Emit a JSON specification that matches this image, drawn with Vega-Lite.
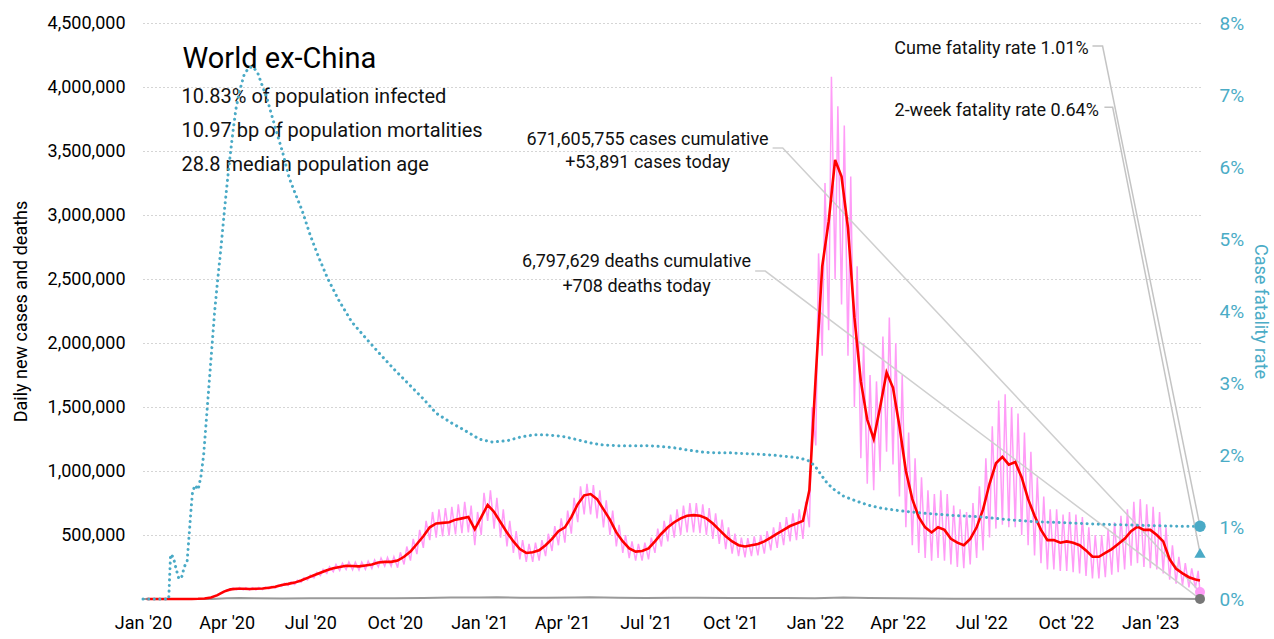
{
"$schema": "https://vega.github.io/schema/vega-lite/v6.json",
"width": 1057, "height": 576,
"autosize": {"type": "none"},
"padding": {"left": 143, "top": 23, "right": 74, "bottom": 40},
"background": "white",
"config": {"font": "Roboto", "view": {"stroke": null}},
"datasets": {
"cases_daily": [
{"date":"2020-01-05","value":0},{"date":"2020-01-08","value":0},{"date":"2020-01-12","value":0},{"date":"2020-01-15","value":0},{"date":"2020-01-19","value":0},{"date":"2020-01-22","value":0},{"date":"2020-01-26","value":50},{"date":"2020-01-29","value":100},{"date":"2020-02-02","value":100},{"date":"2020-02-05","value":150},{"date":"2020-02-09","value":100},{"date":"2020-02-12","value":200},{"date":"2020-02-16","value":100},{"date":"2020-02-19","value":200},{"date":"2020-02-23","value":400},{"date":"2020-02-26","value":800},
{"date":"2020-03-01","value":1300},{"date":"2020-03-04","value":2800},{"date":"2020-03-08","value":3500},{"date":"2020-03-11","value":7000},{"date":"2020-03-15","value":11000},{"date":"2020-03-18","value":20000},{"date":"2020-03-22","value":27000},{"date":"2020-03-25","value":45000},{"date":"2020-03-29","value":52000},{"date":"2020-04-01","value":72000},{"date":"2020-04-05","value":66000},{"date":"2020-04-08","value":86000},{"date":"2020-04-12","value":72000},{"date":"2020-04-15","value":90000},{"date":"2020-04-19","value":72000},{"date":"2020-04-22","value":88000},{"date":"2020-04-26","value":70000},{"date":"2020-04-29","value":88000},
{"date":"2020-05-03","value":72000},{"date":"2020-05-06","value":90000},{"date":"2020-05-10","value":74000},{"date":"2020-05-13","value":92000},{"date":"2020-05-17","value":80000},{"date":"2020-05-20","value":98000},{"date":"2020-05-24","value":86000},{"date":"2020-05-27","value":108000},{"date":"2020-05-31","value":98000},{"date":"2020-06-03","value":124000},{"date":"2020-06-07","value":105000},{"date":"2020-06-10","value":132000},{"date":"2020-06-14","value":114000},{"date":"2020-06-17","value":146000},{"date":"2020-06-21","value":130000},{"date":"2020-06-24","value":165000},{"date":"2020-06-28","value":148000},{"date":"2020-07-01","value":186000},
{"date":"2020-07-05","value":165000},{"date":"2020-07-08","value":208000},{"date":"2020-07-12","value":184000},{"date":"2020-07-15","value":232000},{"date":"2020-07-19","value":200000},{"date":"2020-07-22","value":252000},{"date":"2020-07-26","value":214000},{"date":"2020-07-29","value":270000},{"date":"2020-08-02","value":222000},{"date":"2020-08-05","value":280000},{"date":"2020-08-09","value":230000},{"date":"2020-08-12","value":290000},{"date":"2020-08-16","value":228000},{"date":"2020-08-19","value":288000},{"date":"2020-08-23","value":226000},{"date":"2020-08-26","value":288000},{"date":"2020-08-30","value":232000},{"date":"2020-09-02","value":296000},
{"date":"2020-09-06","value":238000},{"date":"2020-09-09","value":305000},{"date":"2020-09-13","value":252000},{"date":"2020-09-16","value":320000},{"date":"2020-09-20","value":256000},{"date":"2020-09-23","value":325000},{"date":"2020-09-27","value":256000},{"date":"2020-09-30","value":330000},{"date":"2020-10-04","value":245000},{"date":"2020-10-07","value":365000},{"date":"2020-10-11","value":270000},{"date":"2020-10-14","value":410000},{"date":"2020-10-18","value":300000},{"date":"2020-10-21","value":470000},{"date":"2020-10-25","value":350000},{"date":"2020-10-28","value":540000},
{"date":"2020-11-01","value":400000},{"date":"2020-11-04","value":610000},{"date":"2020-11-08","value":460000},{"date":"2020-11-11","value":680000},{"date":"2020-11-15","value":480000},{"date":"2020-11-18","value":700000},{"date":"2020-11-22","value":490000},{"date":"2020-11-25","value":710000},{"date":"2020-11-29","value":495000},{"date":"2020-12-02","value":720000},{"date":"2020-12-06","value":505000},{"date":"2020-12-09","value":740000},{"date":"2020-12-13","value":515000},{"date":"2020-12-16","value":760000},{"date":"2020-12-20","value":520000},{"date":"2020-12-23","value":730000},{"date":"2020-12-27","value":420000},{"date":"2020-12-30","value":680000},
{"date":"2021-01-03","value":500000},{"date":"2021-01-06","value":830000},{"date":"2021-01-10","value":610000},{"date":"2021-01-13","value":850000},{"date":"2021-01-17","value":550000},{"date":"2021-01-20","value":790000},{"date":"2021-01-24","value":480000},{"date":"2021-01-27","value":700000},{"date":"2021-01-31","value":410000},{"date":"2021-02-03","value":610000},{"date":"2021-02-07","value":360000},{"date":"2021-02-10","value":530000},{"date":"2021-02-14","value":310000},{"date":"2021-02-17","value":460000},{"date":"2021-02-21","value":290000},{"date":"2021-02-24","value":430000},{"date":"2021-02-28","value":290000},{"date":"2021-03-03","value":440000},
{"date":"2021-03-07","value":300000},{"date":"2021-03-10","value":460000},{"date":"2021-03-14","value":335000},{"date":"2021-03-17","value":510000},{"date":"2021-03-21","value":375000},{"date":"2021-03-24","value":570000},{"date":"2021-03-28","value":420000},{"date":"2021-03-31","value":630000},{"date":"2021-04-04","value":440000},{"date":"2021-04-07","value":690000},{"date":"2021-04-11","value":510000},{"date":"2021-04-14","value":790000},{"date":"2021-04-18","value":600000},{"date":"2021-04-21","value":880000},{"date":"2021-04-25","value":660000},{"date":"2021-04-28","value":900000},
{"date":"2021-05-02","value":660000},{"date":"2021-05-05","value":890000},{"date":"2021-05-09","value":630000},{"date":"2021-05-12","value":850000},{"date":"2021-05-16","value":560000},{"date":"2021-05-19","value":770000},{"date":"2021-05-23","value":500000},{"date":"2021-05-26","value":690000},{"date":"2021-05-30","value":410000},{"date":"2021-06-02","value":580000},{"date":"2021-06-06","value":360000},{"date":"2021-06-09","value":500000},{"date":"2021-06-13","value":320000},{"date":"2021-06-16","value":450000},{"date":"2021-06-20","value":300000},{"date":"2021-06-23","value":430000},{"date":"2021-06-27","value":300000},{"date":"2021-06-30","value":440000},
{"date":"2021-07-04","value":310000},{"date":"2021-07-07","value":480000},{"date":"2021-07-11","value":360000},{"date":"2021-07-14","value":550000},{"date":"2021-07-18","value":410000},{"date":"2021-07-21","value":610000},{"date":"2021-07-25","value":450000},{"date":"2021-07-28","value":660000},{"date":"2021-08-01","value":480000},{"date":"2021-08-04","value":700000},{"date":"2021-08-08","value":500000},{"date":"2021-08-11","value":730000},{"date":"2021-08-15","value":520000},{"date":"2021-08-18","value":750000},{"date":"2021-08-22","value":520000},{"date":"2021-08-25","value":750000},{"date":"2021-08-29","value":515000},{"date":"2021-09-01","value":740000},
{"date":"2021-09-05","value":500000},{"date":"2021-09-08","value":710000},{"date":"2021-09-12","value":470000},{"date":"2021-09-15","value":670000},{"date":"2021-09-19","value":430000},{"date":"2021-09-22","value":620000},{"date":"2021-09-26","value":390000},{"date":"2021-09-29","value":560000},{"date":"2021-10-03","value":355000},{"date":"2021-10-06","value":510000},{"date":"2021-10-10","value":335000},{"date":"2021-10-13","value":480000},{"date":"2021-10-17","value":325000},{"date":"2021-10-20","value":475000},{"date":"2021-10-24","value":335000},{"date":"2021-10-27","value":490000},{"date":"2021-10-31","value":340000},{"date":"2021-11-03","value":500000},
{"date":"2021-11-07","value":355000},{"date":"2021-11-10","value":530000},{"date":"2021-11-14","value":380000},{"date":"2021-11-17","value":560000},{"date":"2021-11-21","value":400000},{"date":"2021-11-24","value":600000},{"date":"2021-11-28","value":420000},{"date":"2021-12-01","value":640000},{"date":"2021-12-05","value":450000},{"date":"2021-12-08","value":670000},{"date":"2021-12-12","value":460000},{"date":"2021-12-15","value":700000},{"date":"2021-12-19","value":470000},{"date":"2021-12-22","value":760000},{"date":"2021-12-26","value":560000},{"date":"2021-12-29","value":1500000},
{"date":"2022-01-02","value":1200000},{"date":"2022-01-05","value":2700000},{"date":"2022-01-09","value":1900000},{"date":"2022-01-12","value":3250000},{"date":"2022-01-16","value":2100000},{"date":"2022-01-19","value":4080000},{"date":"2022-01-23","value":2500000},{"date":"2022-01-26","value":3850000},{"date":"2022-01-30","value":2300000},{"date":"2022-02-02","value":3700000},{"date":"2022-02-06","value":1900000},{"date":"2022-02-09","value":3300000},{"date":"2022-02-13","value":1500000},{"date":"2022-02-16","value":2600000},{"date":"2022-02-20","value":1100000},{"date":"2022-02-23","value":2000000},{"date":"2022-02-27","value":900000},{"date":"2022-03-02","value":1750000},
{"date":"2022-03-06","value":850000},{"date":"2022-03-09","value":1700000},{"date":"2022-03-13","value":1000000},{"date":"2022-03-16","value":2050000},{"date":"2022-03-20","value":1150000},{"date":"2022-03-23","value":2200000},{"date":"2022-03-27","value":1050000},{"date":"2022-03-30","value":2000000},{"date":"2022-04-03","value":800000},{"date":"2022-04-06","value":1750000},{"date":"2022-04-10","value":560000},{"date":"2022-04-13","value":1300000},{"date":"2022-04-17","value":420000},{"date":"2022-04-20","value":1100000},{"date":"2022-04-24","value":360000},{"date":"2022-04-27","value":950000},
{"date":"2022-05-01","value":320000},{"date":"2022-05-04","value":850000},{"date":"2022-05-08","value":300000},{"date":"2022-05-11","value":820000},{"date":"2022-05-15","value":320000},{"date":"2022-05-18","value":850000},{"date":"2022-05-22","value":300000},{"date":"2022-05-25","value":820000},{"date":"2022-05-29","value":270000},{"date":"2022-06-01","value":730000},{"date":"2022-06-05","value":250000},{"date":"2022-06-08","value":700000},{"date":"2022-06-12","value":240000},{"date":"2022-06-15","value":680000},{"date":"2022-06-19","value":270000},{"date":"2022-06-22","value":750000},{"date":"2022-06-26","value":320000},{"date":"2022-06-29","value":880000},
{"date":"2022-07-03","value":380000},{"date":"2022-07-06","value":1100000},{"date":"2022-07-10","value":480000},{"date":"2022-07-13","value":1350000},{"date":"2022-07-17","value":550000},{"date":"2022-07-20","value":1550000},{"date":"2022-07-24","value":580000},{"date":"2022-07-27","value":1600000},{"date":"2022-07-31","value":560000},{"date":"2022-08-03","value":1500000},{"date":"2022-08-07","value":560000},{"date":"2022-08-10","value":1450000},{"date":"2022-08-14","value":500000},{"date":"2022-08-17","value":1300000},{"date":"2022-08-21","value":420000},{"date":"2022-08-24","value":1150000},{"date":"2022-08-28","value":340000},{"date":"2022-08-31","value":950000},
{"date":"2022-09-04","value":280000},{"date":"2022-09-07","value":800000},{"date":"2022-09-11","value":230000},{"date":"2022-09-14","value":700000},{"date":"2022-09-18","value":230000},{"date":"2022-09-21","value":700000},{"date":"2022-09-25","value":220000},{"date":"2022-09-28","value":660000},{"date":"2022-10-02","value":220000},{"date":"2022-10-05","value":680000},{"date":"2022-10-09","value":210000},{"date":"2022-10-12","value":660000},{"date":"2022-10-16","value":200000},{"date":"2022-10-19","value":640000},{"date":"2022-10-23","value":180000},{"date":"2022-10-26","value":560000},{"date":"2022-10-30","value":160000},{"date":"2022-11-02","value":500000},
{"date":"2022-11-06","value":160000},{"date":"2022-11-09","value":500000},{"date":"2022-11-13","value":170000},{"date":"2022-11-16","value":550000},{"date":"2022-11-20","value":190000},{"date":"2022-11-23","value":600000},{"date":"2022-11-27","value":210000},{"date":"2022-11-30","value":650000},{"date":"2022-12-04","value":230000},{"date":"2022-12-07","value":700000},{"date":"2022-12-11","value":260000},{"date":"2022-12-14","value":760000},{"date":"2022-12-18","value":280000},{"date":"2022-12-21","value":780000},{"date":"2022-12-25","value":250000},{"date":"2022-12-28","value":740000},
{"date":"2023-01-01","value":240000},{"date":"2023-01-04","value":720000},{"date":"2023-01-08","value":230000},{"date":"2023-01-11","value":680000},{"date":"2023-01-15","value":200000},{"date":"2023-01-18","value":560000},{"date":"2023-01-22","value":150000},{"date":"2023-01-25","value":420000},{"date":"2023-01-29","value":120000},{"date":"2023-02-01","value":330000},{"date":"2023-02-05","value":105000},{"date":"2023-02-08","value":280000},{"date":"2023-02-12","value":90000},{"date":"2023-02-15","value":240000},{"date":"2023-02-19","value":85000},{"date":"2023-02-22","value":220000},{"date":"2023-02-24","value":53891}
],
"cases_7day_avg": [
{"date":"2020-01-05","value":0},{"date":"2020-01-12","value":0},{"date":"2020-01-19","value":0},{"date":"2020-01-26","value":100},{"date":"2020-02-02","value":100},{"date":"2020-02-09","value":100},{"date":"2020-02-16","value":100},{"date":"2020-02-23","value":300},{"date":"2020-03-01","value":1500},{"date":"2020-03-08","value":4000},{"date":"2020-03-15","value":12000},{"date":"2020-03-22","value":30000},{"date":"2020-03-29","value":58000},{"date":"2020-04-05","value":75000},{"date":"2020-04-12","value":80000},{"date":"2020-04-19","value":80000},{"date":"2020-04-26","value":78000},{"date":"2020-05-03","value":80000},{"date":"2020-05-10","value":82000},{"date":"2020-05-17","value":88000},{"date":"2020-05-24","value":95000},{"date":"2020-05-31","value":110000},{"date":"2020-06-07","value":118000},{"date":"2020-06-14","value":128000},{"date":"2020-06-21","value":145000},{"date":"2020-06-28","value":165000},{"date":"2020-07-05","value":185000},{"date":"2020-07-12","value":205000},{"date":"2020-07-19","value":225000},{"date":"2020-07-26","value":240000},{"date":"2020-08-02","value":250000},{"date":"2020-08-09","value":260000},{"date":"2020-08-16","value":258000},{"date":"2020-08-23","value":255000},{"date":"2020-08-30","value":262000},{"date":"2020-09-06","value":270000},{"date":"2020-09-13","value":285000},{"date":"2020-09-20","value":290000},{"date":"2020-09-27","value":290000},{"date":"2020-10-04","value":300000},{"date":"2020-10-11","value":330000},{"date":"2020-10-18","value":370000},{"date":"2020-10-25","value":430000},{"date":"2020-11-01","value":490000},{"date":"2020-11-08","value":560000},{"date":"2020-11-15","value":590000},{"date":"2020-11-22","value":595000},{"date":"2020-11-29","value":600000},{"date":"2020-12-06","value":620000},{"date":"2020-12-13","value":630000},{"date":"2020-12-20","value":640000},{"date":"2020-12-27","value":545000},
{"date":"2021-01-03","value":640000},{"date":"2021-01-10","value":735000},{"date":"2021-01-17","value":680000},{"date":"2021-01-24","value":600000},{"date":"2021-01-31","value":520000},{"date":"2021-02-07","value":450000},{"date":"2021-02-14","value":390000},{"date":"2021-02-21","value":360000},{"date":"2021-02-28","value":365000},{"date":"2021-03-07","value":380000},{"date":"2021-03-14","value":420000},{"date":"2021-03-21","value":470000},{"date":"2021-03-28","value":530000},{"date":"2021-04-04","value":560000},{"date":"2021-04-11","value":640000},{"date":"2021-04-18","value":740000},{"date":"2021-04-25","value":810000},{"date":"2021-05-02","value":820000},{"date":"2021-05-09","value":780000},{"date":"2021-05-16","value":700000},{"date":"2021-05-23","value":620000},{"date":"2021-05-30","value":520000},{"date":"2021-06-06","value":450000},{"date":"2021-06-13","value":395000},{"date":"2021-06-20","value":370000},{"date":"2021-06-27","value":375000},{"date":"2021-07-04","value":395000},{"date":"2021-07-11","value":450000},{"date":"2021-07-18","value":510000},{"date":"2021-07-25","value":560000},{"date":"2021-08-01","value":600000},{"date":"2021-08-08","value":630000},{"date":"2021-08-15","value":650000},{"date":"2021-08-22","value":655000},{"date":"2021-08-29","value":650000},{"date":"2021-09-05","value":630000},{"date":"2021-09-12","value":590000},{"date":"2021-09-19","value":540000},{"date":"2021-09-26","value":490000},{"date":"2021-10-03","value":450000},{"date":"2021-10-10","value":420000},{"date":"2021-10-17","value":410000},{"date":"2021-10-24","value":420000},{"date":"2021-10-31","value":430000},{"date":"2021-11-07","value":450000},{"date":"2021-11-14","value":480000},{"date":"2021-11-21","value":510000},{"date":"2021-11-28","value":540000},{"date":"2021-12-05","value":570000},{"date":"2021-12-12","value":590000},{"date":"2021-12-19","value":610000},{"date":"2021-12-26","value":850000},
{"date":"2022-01-02","value":1750000},{"date":"2022-01-09","value":2600000},{"date":"2022-01-16","value":2950000},{"date":"2022-01-23","value":3430000},{"date":"2022-01-30","value":3300000},{"date":"2022-02-06","value":2900000},{"date":"2022-02-13","value":2200000},{"date":"2022-02-20","value":1700000},{"date":"2022-02-27","value":1400000},{"date":"2022-03-06","value":1250000},{"date":"2022-03-13","value":1500000},{"date":"2022-03-20","value":1770000},{"date":"2022-03-27","value":1650000},{"date":"2022-04-03","value":1350000},{"date":"2022-04-10","value":1000000},{"date":"2022-04-17","value":780000},{"date":"2022-04-24","value":640000},{"date":"2022-05-01","value":560000},{"date":"2022-05-08","value":520000},{"date":"2022-05-15","value":560000},{"date":"2022-05-22","value":540000},{"date":"2022-05-29","value":470000},{"date":"2022-06-05","value":440000},{"date":"2022-06-12","value":420000},{"date":"2022-06-19","value":470000},{"date":"2022-06-26","value":560000},{"date":"2022-07-03","value":700000},{"date":"2022-07-10","value":900000},{"date":"2022-07-17","value":1060000},{"date":"2022-07-24","value":1110000},{"date":"2022-07-31","value":1050000},{"date":"2022-08-07","value":1070000},{"date":"2022-08-14","value":950000},{"date":"2022-08-21","value":780000},{"date":"2022-08-28","value":650000},{"date":"2022-09-04","value":540000},{"date":"2022-09-11","value":460000},{"date":"2022-09-18","value":460000},{"date":"2022-09-25","value":440000},{"date":"2022-10-02","value":450000},{"date":"2022-10-09","value":440000},{"date":"2022-10-16","value":420000},{"date":"2022-10-23","value":380000},{"date":"2022-10-30","value":330000},{"date":"2022-11-06","value":330000},{"date":"2022-11-13","value":360000},{"date":"2022-11-20","value":390000},{"date":"2022-11-27","value":430000},{"date":"2022-12-04","value":470000},{"date":"2022-12-11","value":530000},{"date":"2022-12-18","value":565000},{"date":"2022-12-25","value":540000},
{"date":"2023-01-01","value":540000},{"date":"2023-01-08","value":500000},{"date":"2023-01-15","value":450000},{"date":"2023-01-22","value":310000},{"date":"2023-01-29","value":235000},{"date":"2023-02-05","value":200000},{"date":"2023-02-12","value":170000},{"date":"2023-02-19","value":152000},{"date":"2023-02-24","value":145000}
],
"deaths_daily": [
{"date":"2020-01-01","value":0},{"date":"2020-02-15","value":0},{"date":"2020-03-01","value":100},{"date":"2020-03-15","value":500},{"date":"2020-04-01","value":5000},{"date":"2020-04-15","value":7000},{"date":"2020-05-01","value":5500},{"date":"2020-06-01","value":4500},{"date":"2020-07-01","value":5000},{"date":"2020-08-01","value":6000},{"date":"2020-09-01","value":5500},{"date":"2020-10-01","value":5500},{"date":"2020-11-01","value":7500},{"date":"2020-12-01","value":11000},{"date":"2021-01-01","value":11500},{"date":"2021-01-20","value":14500},{"date":"2021-02-15","value":10000},{"date":"2021-03-15","value":9000},{"date":"2021-04-15","value":12500},{"date":"2021-05-01","value":13500},{"date":"2021-06-01","value":10500},{"date":"2021-07-01","value":8000},{"date":"2021-08-01","value":9000},{"date":"2021-08-25","value":10500},{"date":"2021-10-01","value":8000},{"date":"2021-11-01","value":7000},{"date":"2021-12-01","value":7500},{"date":"2022-01-01","value":6500},{"date":"2022-02-01","value":11000},{"date":"2022-03-01","value":8000},{"date":"2022-04-01","value":5000},{"date":"2022-05-01","value":3000},{"date":"2022-06-01","value":2000},{"date":"2022-07-01","value":2000},{"date":"2022-08-01","value":2500},{"date":"2022-09-01","value":2000},{"date":"2022-10-01","value":1500},{"date":"2022-11-01","value":1300},{"date":"2022-12-01","value":1500},{"date":"2023-01-01","value":1800},{"date":"2023-02-01","value":1200},{"date":"2023-02-24","value":708}
],
"case_fatality_rate": [
{"date":"2020-01-01","value":0},{"date":"2020-01-29","value":0},{"date":"2020-01-31","value":0.0062},{"date":"2020-02-03","value":0.0058},{"date":"2020-02-06","value":0.0042},{"date":"2020-02-09","value":0.0028},{"date":"2020-02-12","value":0.003},{"date":"2020-02-15","value":0.0045},{"date":"2020-02-18","value":0.0052},{"date":"2020-02-20","value":0.0085},{"date":"2020-02-22","value":0.012},{"date":"2020-02-24","value":0.015},{"date":"2020-02-27","value":0.0158},{"date":"2020-03-01","value":0.0152},{"date":"2020-03-04","value":0.017},{"date":"2020-03-07","value":0.02},{"date":"2020-03-10","value":0.025},{"date":"2020-03-13","value":0.03},{"date":"2020-03-16","value":0.035},{"date":"2020-03-19","value":0.04},{"date":"2020-03-22","value":0.044},{"date":"2020-03-26","value":0.049},{"date":"2020-03-30","value":0.0545},{"date":"2020-04-03","value":0.0595},{"date":"2020-04-07","value":0.064},{"date":"2020-04-11","value":0.068},{"date":"2020-04-15","value":0.0705},{"date":"2020-04-20","value":0.0728},{"date":"2020-04-25","value":0.0738},{"date":"2020-04-30","value":0.0739},{"date":"2020-05-05","value":0.073},{"date":"2020-05-10","value":0.0712},{"date":"2020-05-15","value":0.0695},{"date":"2020-05-20","value":0.0672},{"date":"2020-05-25","value":0.065},{"date":"2020-06-01","value":0.062},{"date":"2020-06-08","value":0.0585},{"date":"2020-06-15","value":0.0562},{"date":"2020-06-22","value":0.054},{"date":"2020-07-01","value":0.0505},{"date":"2020-07-10","value":0.0475},{"date":"2020-07-20","value":0.0445},{"date":"2020-08-01","value":0.0415},{"date":"2020-08-15","value":0.0385},{"date":"2020-09-01","value":0.036},{"date":"2020-09-15","value":0.034},{"date":"2020-10-01","value":0.0318},{"date":"2020-10-15","value":0.03},{"date":"2020-11-01","value":0.0278},{"date":"2020-11-15","value":0.0258},{"date":"2020-12-01","value":0.0245},{"date":"2020-12-15","value":0.0235},
{"date":"2021-01-01","value":0.0222},{"date":"2021-01-15","value":0.0218},{"date":"2021-02-01","value":0.022},{"date":"2021-02-15","value":0.0225},{"date":"2021-03-01","value":0.0228},{"date":"2021-03-15","value":0.0228},{"date":"2021-04-01","value":0.0226},{"date":"2021-04-15","value":0.0222},{"date":"2021-05-01","value":0.0217},{"date":"2021-05-15","value":0.0214},{"date":"2021-06-01","value":0.0213},{"date":"2021-06-15","value":0.0213},{"date":"2021-07-01","value":0.0213},{"date":"2021-07-15","value":0.0212},{"date":"2021-08-01","value":0.021},{"date":"2021-08-15","value":0.0207},{"date":"2021-09-01","value":0.0204},{"date":"2021-09-15","value":0.0203},{"date":"2021-10-01","value":0.0203},{"date":"2021-10-15","value":0.0202},{"date":"2021-11-01","value":0.0201},{"date":"2021-11-15","value":0.02},{"date":"2021-12-01","value":0.0198},{"date":"2021-12-15","value":0.0196},{"date":"2021-12-25","value":0.0192},
{"date":"2022-01-01","value":0.0185},{"date":"2022-01-08","value":0.0172},{"date":"2022-01-15","value":0.016},{"date":"2022-01-22","value":0.0152},{"date":"2022-02-01","value":0.0143},{"date":"2022-02-15","value":0.0136},{"date":"2022-03-01","value":0.013},{"date":"2022-03-15","value":0.0126},{"date":"2022-04-01","value":0.0123},{"date":"2022-04-15","value":0.0121},{"date":"2022-05-01","value":0.0119},{"date":"2022-06-01","value":0.0116},{"date":"2022-07-01","value":0.0114},{"date":"2022-08-01","value":0.011},{"date":"2022-09-01","value":0.0107},{"date":"2022-10-01","value":0.0106},{"date":"2022-11-01","value":0.0104},{"date":"2022-12-01","value":0.0103},{"date":"2023-01-01","value":0.0102},{"date":"2023-02-01","value":0.0101},{"date":"2023-02-24","value":0.0101}
],
"headline": [{"date":"2020-02-13","value":4148000,"label":"World ex-China"}],
"stats": [
{"date":"2020-02-12","value":3875000,"label":"10.83% of population infected"},
{"date":"2020-02-12","value":3609000,"label":"10.97 bp of population mortalities"},
{"date":"2020-02-12","value":3344000,"label":"28.8 median population age"}
],
"count_notes": [
{"date":"2021-07-03","value":3547000,"label":"671,605,755 cases cumulative"},
{"date":"2021-07-03","value":3367000,"label":"+53,891 cases today"},
{"date":"2021-06-21","value":2594000,"label":"6,797,629 deaths cumulative"},
{"date":"2021-06-21","value":2398000,"label":"+708 deaths today"}
],
"count_leaders": [
{"line":"cases","step":1,"date":"2021-11-16","value":3523000},
{"line":"cases","step":2,"date":"2021-11-27","value":3523000},
{"line":"cases","step":3,"date":"2023-02-24","value":53891},
{"line":"deaths","step":1,"date":"2021-10-28","value":2562000},
{"line":"deaths","step":2,"date":"2021-11-08","value":2562000},
{"line":"deaths","step":3,"date":"2023-02-24","value":708}
],
"count_latest": [
{"date":"2023-02-24","value":53891,"series":"cases"},
{"date":"2023-02-24","value":708,"series":"deaths"}
],
"rate_notes": [
{"date":"2022-10-26","value":0.0757,"label":"Cume fatality rate 1.01%"},
{"date":"2022-11-06","value":0.0671,"label":"2-week fatality rate 0.64%"}
],
"rate_leaders": [
{"line":"cume","step":1,"date":"2022-10-30","value":0.0768},
{"line":"cume","step":2,"date":"2022-11-10","value":0.0768},
{"line":"cume","step":3,"date":"2023-02-24","value":0.0101},
{"line":"twoweek","step":1,"date":"2022-11-12","value":0.0683},
{"line":"twoweek","step":2,"date":"2022-11-21","value":0.0683},
{"line":"twoweek","step":3,"date":"2023-02-24","value":0.0064}
],
"rate_latest": [
{"date":"2023-02-24","value":0.0101,"rate":"cume"},
{"date":"2023-02-24","value":0.0064,"rate":"two-week"}
]
},
"layer": [
{
"encoding": {
"x": {"field":"date","type":"temporal",
 "scale":{"type":"utc","domain":[{"year":2020,"month":1,"date":1,"utc":true},{"year":2023,"month":2,"date":24,"utc":true}]},
 "axis":{"values":[
  {"year":2020,"month":1,"date":1,"utc":true},{"year":2020,"month":4,"date":1,"utc":true},{"year":2020,"month":7,"date":1,"utc":true},{"year":2020,"month":10,"date":1,"utc":true},
  {"year":2021,"month":1,"date":1,"utc":true},{"year":2021,"month":4,"date":1,"utc":true},{"year":2021,"month":7,"date":1,"utc":true},{"year":2021,"month":10,"date":1,"utc":true},
  {"year":2022,"month":1,"date":1,"utc":true},{"year":2022,"month":4,"date":1,"utc":true},{"year":2022,"month":7,"date":1,"utc":true},{"year":2022,"month":10,"date":1,"utc":true},
  {"year":2023,"month":1,"date":1,"utc":true}],
  "format":"%b '%y","labelFontSize":18,"labelColor":"#000","ticks":false,"domain":false,"grid":false,"labelPadding":15,"labelFlush":false,"labelOverlap":false,"title":null}},
"y": {"field":"value","type":"quantitative",
 "scale":{"domain":[0,4500000],"nice":false},
 "axis":{"orient":"left","values":[500000,1000000,1500000,2000000,2500000,3000000,3500000,4000000,4500000],"format":",d","labelFontSize":18,"labelColor":"#000","ticks":false,"domain":false,"grid":true,"gridColor":"#ababab","gridDash":[1,3],"gridWidth":1,"labelPadding":18,
 "title":"Daily new cases and deaths","titleFontSize":18,"titleFontWeight":"normal","titleColor":"#000","titleAngle":270,"titleX":-117,"titleY":288,"titleAlign":"center","titleBaseline":"alphabetic"}}
},
"layer": [
{"data":{"name":"cases_daily"},"mark":{"type":"line","color":"#ff9cf7","strokeWidth":1.5}},
{"data":{"name":"deaths_daily"},"mark":{"type":"line","color":"#9a9a9a","strokeWidth":2}},
{"data":{"name":"count_leaders"},"mark":{"type":"line","color":"#cfcfcf","strokeWidth":1.5},"encoding":{"detail":{"field":"line"},"order":{"field":"step","type":"quantitative"}}},
{"data":{"name":"cases_7day_avg"},"mark":{"type":"line","color":"#ff0000","strokeWidth":2.6}},
{"data":{"name":"headline"},"mark":{"type":"text","align":"left","baseline":"alphabetic","fontSize":29,"color":"#000"},"encoding":{"text":{"field":"label"}}},
{"data":{"name":"stats"},"mark":{"type":"text","align":"left","baseline":"alphabetic","fontSize":20,"color":"#111"},"encoding":{"text":{"field":"label"}}},
{"data":{"name":"count_notes"},"mark":{"type":"text","align":"center","baseline":"alphabetic","fontSize":18,"color":"#111"},"encoding":{"text":{"field":"label"}}},
{"data":{"name":"count_latest"},"mark":{"type":"point","filled":true,"size":100,"opacity":1},"encoding":{"color":{"field":"series","type":"nominal","scale":{"domain":["cases","deaths"],"range":["#ff9cf7","#777777"]},"legend":null}}}
]
},
{
"encoding": {
"x": {"field":"date","type":"temporal",
 "scale":{"type":"utc","domain":[{"year":2020,"month":1,"date":1,"utc":true},{"year":2023,"month":2,"date":24,"utc":true}]},
 "axis":{"values":[
  {"year":2020,"month":1,"date":1,"utc":true},{"year":2020,"month":4,"date":1,"utc":true},{"year":2020,"month":7,"date":1,"utc":true},{"year":2020,"month":10,"date":1,"utc":true},
  {"year":2021,"month":1,"date":1,"utc":true},{"year":2021,"month":4,"date":1,"utc":true},{"year":2021,"month":7,"date":1,"utc":true},{"year":2021,"month":10,"date":1,"utc":true},
  {"year":2022,"month":1,"date":1,"utc":true},{"year":2022,"month":4,"date":1,"utc":true},{"year":2022,"month":7,"date":1,"utc":true},{"year":2022,"month":10,"date":1,"utc":true},
  {"year":2023,"month":1,"date":1,"utc":true}],
  "format":"%b '%y","labelFontSize":18,"labelColor":"#000","ticks":false,"domain":false,"grid":false,"labelPadding":15,"labelFlush":false,"labelOverlap":false,"title":null}},
"y": {"field":"value","type":"quantitative",
 "scale":{"domain":[0,0.08],"nice":false},
 "axis":{"orient":"right","values":[0,0.01,0.02,0.03,0.04,0.05,0.06,0.07,0.08],"format":".0%","labelFontSize":19,"labelColor":"#4bacc6","ticks":false,"domain":false,"grid":false,"labelPadding":19,
 "title":"Case fatality rate","titleFontSize":18,"titleFontWeight":"normal","titleColor":"#4bacc6","titleAngle":90,"titleX":54,"titleY":288,"titleAlign":"center","titleBaseline":"alphabetic"}}
},
"layer": [
{"data":{"name":"case_fatality_rate"},"mark":{"type":"line","color":"#4aaac6","strokeWidth":3,"strokeDash":[0.1,5.5],"strokeCap":"round"}},
{"data":{"name":"rate_leaders"},"mark":{"type":"line","color":"#c4c4c4","strokeWidth":1.5},"encoding":{"detail":{"field":"line"},"order":{"field":"step","type":"quantitative"}}},
{"data":{"name":"rate_notes"},"mark":{"type":"text","align":"right","baseline":"alphabetic","fontSize":18,"color":"#111"},"encoding":{"text":{"field":"label"}}},
{"data":{"name":"rate_latest"},"mark":{"type":"point","filled":true,"size":130,"opacity":1,"color":"#4aaac6"},"encoding":{"shape":{"field":"rate","type":"nominal","scale":{"domain":["cume","two-week"],"range":["circle","triangle-up"]},"legend":null}}}
]
}
],
"resolve": {"scale": {"y": "independent"}}
}
